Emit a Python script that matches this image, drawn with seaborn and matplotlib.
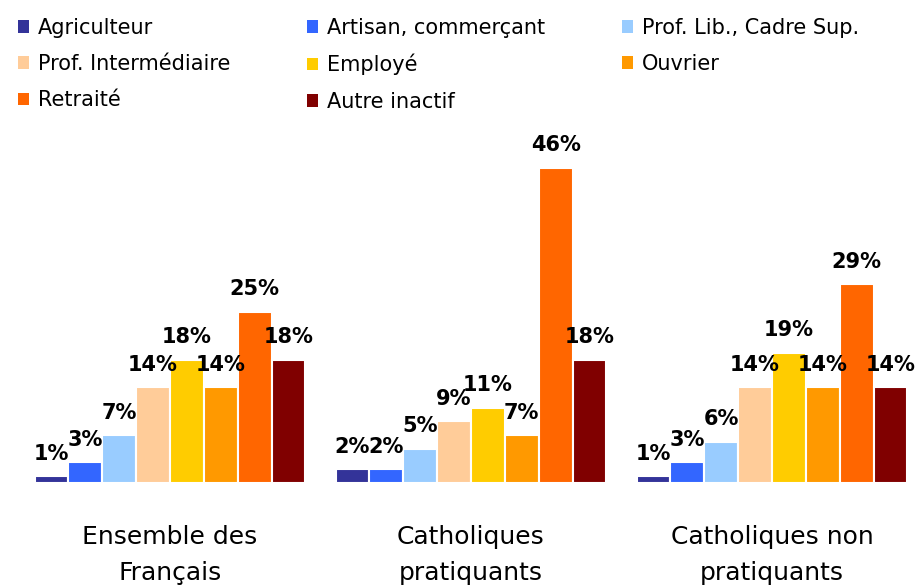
import matplotlib
matplotlib.use("Agg")
import matplotlib.pyplot as plt
import seaborn as sns
import pandas as pd
from matplotlib.patches import Patch

groupes = ["Ensemble des\nFrançais", "Catholiques\npratiquants", "Catholiques non\npratiquants"]
categories = ["Agriculteur", "Artisan, commerçant", "Prof. Lib., Cadre Sup.",
              "Prof. Intermédiaire", "Employé", "Ouvrier", "Retraité", "Autre inactif"]
couleurs = ["#333399", "#3366FF", "#99CCFF", "#FFCC99", "#FFCC00", "#FF9900", "#FF6600", "#800000"]

ensemble = [1, 3, 7, 14, 18, 14, 25, 18]
pratiquants = [2, 2, 5, 9, 11, 7, 46, 18]
non_pratiquants = [1, 3, 6, 14, 19, 14, 29, 14]

df = pd.DataFrame({
    "groupe": [g for g in groupes for _ in categories],
    "categorie": categories * 3,
    "valeur": ensemble + pratiquants + non_pratiquants,
})

sns.set_style("white")
plt.rcParams["text.color"] = "black"
plt.rcParams["xtick.color"] = "black"

fig = plt.figure(figsize=(9.17, 5.88), dpi=100)
ax = fig.add_axes([0, 105 / 588, 1, 353 / 588])

sns.barplot(data=df, x="groupe", y="valeur", hue="categorie", hue_order=categories,
            palette=couleurs, saturation=1, width=0.9, edgecolor="white", linewidth=1.5,
            legend=False, ax=ax)

for cont in ax.containers:
    ax.bar_label(cont, fmt="%.0f%%", padding=9, fontsize=15, fontweight="bold", color="black")

ax.set_xlim(-170 / 301, (917 - 170) / 301)
ax.set_ylim(0, 353 / 6.85)
ax.set_xlabel("")
ax.set_ylabel("")
ax.set_yticks([])
sns.despine(ax=ax, left=True, bottom=True)
ax.tick_params(axis="x", length=0, pad=30, labelsize=18, labelcolor="black")
for lbl in ax.get_xticklabels():
    lbl.set_linespacing(1.65)

# legend filled column by column, so reorder to read row by row
ordre = [0, 3, 6, 1, 4, 7, 2, 5]
handles = [Patch(facecolor=couleurs[i], edgecolor="none") for i in ordre]
labels = [categories[i] for i in ordre]
fig.legend(handles, labels, ncol=3, loc="upper left", bbox_to_anchor=(0.0, 1.0),
           frameon=False, fontsize=15, handlelength=0.55, handleheight=0.55,
           handletextpad=0.4, columnspacing=3.7, labelspacing=0.78,
           borderaxespad=0.45)

fig.savefig("out.png", dpi=100)
